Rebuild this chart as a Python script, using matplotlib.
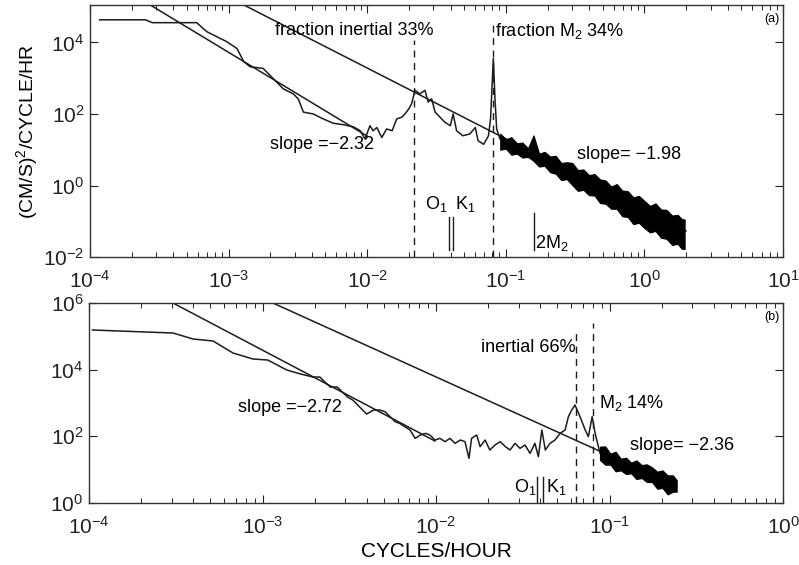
"""
Rotary spectra of current records, two panels (a) and (b)
Log-log spectra with fitted power-law slopes and tidal/inertial marks
"""

import numpy as np
import matplotlib.pyplot as plt
from matplotlib.ticker import LogLocator, NullFormatter

plt.rcParams['font.family'] = ['Liberation Sans', 'DejaVu Sans']
plt.rcParams['mathtext.fontset'] = 'custom'
plt.rcParams['mathtext.rm'] = 'Liberation Sans'
plt.rcParams['mathtext.it'] = 'Liberation Sans:italic'
plt.rcParams['mathtext.default'] = 'regular'

# ---- panel (a): values, stored as log10 ----
spec_a_logf = [-3.93, -3.60, -3.55, -3.23, -3.158, -3.014, -2.94, -2.89, -2.846,
               -2.75, -2.653, -2.605, -2.533, -2.497, -2.46, -2.39, -2.317,
               -2.245, -2.173, -2.10, -2.05, -2.016, -1.98, -1.958, -1.93,
               -1.895, -1.86, -1.82, -1.787, -1.75, -1.727, -1.70, -1.68,
               -1.655, -1.62, -1.583, -1.56, -1.535, -1.51, -1.475, -1.44,
               -1.40, -1.38, -1.355, -1.31, -1.26, -1.22, -1.20, -1.16,
               -1.125, -1.11, -1.09, -1.078, -1.066, -1.042]
spec_a_logp = [4.63, 4.63, 4.55, 4.55, 4.30, 4.02, 3.83, 3.46, 3.32,
               3.27, 2.89, 2.70, 2.56, 2.42, 2.05, 2.00, 1.86,
               1.74, 1.70, 1.64, 1.53, 1.30, 1.67, 1.53, 1.62,
               1.34, 1.58, 1.53, 1.86, 1.91, 2.00, 2.14, 2.28,
               2.66, 2.56, 2.66, 2.33, 2.42, 2.05, 1.91, 1.77,
               1.67, 2.00, 1.53, 1.39, 1.44, 1.62, 1.25, 1.15,
               1.39, 1.86, 3.55, 2.42, 1.58, 1.30]

# dense high-frequency part: upper and lower edge of the black band (log10)
band_a_logf = [-1.04, -1.00, -0.96, -0.92, -0.88, -0.84, -0.80, -0.76, -0.72,
               -0.68, -0.64, -0.60, -0.56, -0.52, -0.48, -0.44, -0.40, -0.36,
               -0.32, -0.28, -0.24, -0.20, -0.16, -0.12, -0.08, -0.04, 0.00,
               0.04, 0.08, 0.12, 0.16, 0.20, 0.24, 0.27, 0.29]
band_a_hi = [1.45, 1.29, 1.35, 1.18, 1.20, 1.04, 1.40, 0.89, 0.94,
             0.81, 0.83, 0.63, 0.65, 0.63, 0.43, 0.45, 0.29, 0.32,
             0.17, 0.14, -0.03, 0.04, -0.14, -0.16, -0.33, -0.29, -0.43,
             -0.57, -0.50, -0.67, -0.68, -0.84, -0.82, -0.94, -0.95]
band_a_lo = [1.00, 1.03, 0.86, 0.89, 0.78, 0.80, 0.69, 0.53, 0.55,
             0.37, 0.33, 0.15, 0.18, 0.01, -0.15, -0.12, -0.27, -0.28,
             -0.49, -0.51, -0.65, -0.65, -0.86, -0.88, -1.08, -1.04, -1.19,
             -1.31, -1.27, -1.46, -1.49, -1.66, -1.63, -1.77, -1.77]

fit_a1_f = [10**-3.589, 10**-2.0]
fit_a1_p = [10**5.10, 10**1.38]
fit_a2_f = [10**-2.918, 10**0.30]
fit_a2_p = [10**5.10, 10**-1.27]

inertial_a = 0.0218
m2_a = 0.0803
o1_a, k1_a, m4_a = 0.0389, 0.0414, 0.160

# ---- panel (b) ----
spec_b_logf = [-3.98, -3.516, -3.40, -3.285, -3.17, -3.055, -2.97, -2.86,
               -2.78, -2.71, -2.67, -2.61, -2.57, -2.51, -2.48, -2.40, -2.36,
               -2.323, -2.294, -2.265, -2.236, -2.21, -2.18, -2.15, -2.12,
               -2.09, -2.06, -2.035, -2.006, -1.977, -1.948, -1.92, -1.89,
               -1.86, -1.833, -1.81, -1.795, -1.765, -1.746, -1.717, -1.69,
               -1.66, -1.63, -1.60, -1.573, -1.545, -1.516, -1.487, -1.458,
               -1.43, -1.41, -1.39, -1.37, -1.343, -1.314, -1.285, -1.256,
               -1.237, -1.218, -1.199, -1.17, -1.14, -1.122, -1.10, -1.083,
               -1.064, -1.055]
spec_b_logp = [5.19, 5.10, 4.92, 4.86, 4.50, 4.32, 4.29, 3.99,
               3.87, 3.78, 3.78, 3.48, 3.48, 3.18, 3.09, 2.67, 2.79,
               2.79, 2.74, 2.59, 2.44, 2.39, 2.29, 2.19, 1.94,
               2.04, 2.09, 2.04, 1.89, 1.94, 1.84, 1.94, 1.79,
               1.89, 1.84, 1.34, 1.94, 2.04, 1.69, 1.89, 1.59,
               1.74, 1.84, 1.69, 1.59, 1.79, 1.64, 1.74, 1.49,
               1.79, 1.39, 2.19, 1.59, 1.79, 1.89, 2.09, 2.19,
               2.59, 2.79, 2.94, 2.59, 2.19, 1.99, 2.59, 2.09,
               1.69, 1.50]

band_b_logf = [-1.055, -1.025, -0.995, -0.965, -0.935, -0.905, -0.875, -0.845,
               -0.815, -0.785, -0.755, -0.725, -0.695, -0.665, -0.635, -0.613]
band_b_hi = [1.69, 1.70, 1.48, 1.54, 1.33, 1.36, 1.21, 1.28,
             1.14, 1.16, 1.07, 0.94, 0.98, 0.83, 0.83, 0.69]
band_b_lo = [1.29, 1.15, 1.15, 0.95, 0.98, 0.87, 0.89, 0.72,
             0.75, 0.63, 0.63, 0.43, 0.45, 0.26, 0.34, 0.34]

fit_b1_f = [10**-3.516, 10**-2.006]
fit_b1_p = [10**6.0, 10**1.86]
fit_b2_f = [10**-2.94, 10**-0.613]
fit_b2_p = [10**6.0, 10**0.51]

inertial_b = 0.064
m2_b = 0.080
o1_b, k1_b = 0.0384, 0.0412

LINE = '#1c1c1c'
FS = 13


def style_axes(ax, xlim, ylim, yticks):
    ax.set_xscale('log')
    ax.set_yscale('log')
    ax.set_xlim(*xlim)
    ax.set_ylim(*ylim)
    ax.set_yticks(yticks)
    ax.yaxis.set_minor_locator(plt.NullLocator())
    ax.xaxis.set_major_locator(LogLocator(base=10, numticks=20))
    ax.xaxis.set_minor_locator(LogLocator(base=10, subs=np.arange(2, 10), numticks=20))
    ax.xaxis.set_minor_formatter(NullFormatter())
    ax.tick_params(which='both', direction='in', top=True, right=True,
                   labelsize=15, colors='#222222')
    ax.tick_params(axis='x', pad=9)
    ax.tick_params(axis='y', pad=4)
    ax.tick_params(which='major', length=6, width=0.8)
    ax.tick_params(which='minor', length=3.5, width=0.7)
    for s in ax.spines.values():
        s.set_linewidth(1.0)
        s.set_color('#333333')


fig = plt.figure(figsize=(7.99, 5.65), dpi=100)

# ---------------- panel (a) ----------------
ax1 = fig.add_axes([0.1126, 0.545, 0.8674, 0.446])
style_axes(ax1, (1e-4, 1e1), (1e-2, 1.1e5), [1e-2, 1e0, 1e2, 1e4])

ax1.plot(fit_a1_f, fit_a1_p, color=LINE, lw=1.1, zorder=2)
ax1.plot(fit_a2_f, fit_a2_p, color=LINE, lw=1.1, zorder=2)
ax1.plot(10**np.array(spec_a_logf), 10**np.array(spec_a_logp), color=LINE,
         lw=1.1, zorder=3)
ax1.fill_between(10**np.array(band_a_logf), 10**np.array(band_a_lo),
                 10**np.array(band_a_hi), color='black', lw=0.8, zorder=3)

ax1.plot([inertial_a, inertial_a], [1e-2, 10**4.06], color=LINE, lw=1, ls=(0, (5, 4)))
ax1.plot([m2_a, m2_a], [1e-2, 10**4.59], color=LINE, lw=1, ls=(0, (5, 4)))
ax1.plot([o1_a, o1_a], [10**-1.80, 10**-0.87], color=LINE, lw=1)
ax1.plot([k1_a, k1_a], [10**-1.80, 10**-0.87], color=LINE, lw=1)
ax1.plot([m4_a, m4_a], [10**-1.80, 10**-0.78], color=LINE, lw=1)

ax1.text(10**-2.665, 10**4.34, 'fraction inertial 33%', fontsize=FS, va='center')
ax1.text(10**-1.078, 10**4.31, 'fraction M$_2$ 34%', fontsize=FS, va='center')
ax1.text(10**-2.70, 10**1.15, 'slope =\u22122.32', fontsize=FS, va='center')
ax1.text(10**-0.486, 10**0.87, 'slope= \u22121.98', fontsize=FS, va='center')
ax1.text(o1_a * 0.985, 10**-0.53, 'O$_1$', fontsize=FS, va='center', ha='right')
ax1.text(k1_a * 1.04, 10**-0.53, 'K$_1$', fontsize=FS, va='center', ha='left')
ax1.text(m4_a * 1.02, 10**-1.6, '2M$_2$', fontsize=FS, va='center', ha='left',
         clip_on=False)
ax1.text(0.995, 0.945, '(a)', transform=ax1.transAxes, fontsize=9,
         ha='right', va='center')
ax1.set_ylabel('(CM/S)$^2$/CYCLE/HR', fontsize=14, labelpad=2)

# ---------------- panel (b) ----------------
ax2 = fig.add_axes([0.1114, 0.1097, 0.8686, 0.354])
style_axes(ax2, (1e-4, 1e0), (1e0, 1e6), [1e0, 1e2, 1e4, 1e6])

ax2.plot(fit_b1_f, fit_b1_p, color=LINE, lw=1.1, zorder=2)
ax2.plot(fit_b2_f, fit_b2_p, color=LINE, lw=1.1, zorder=2)
ax2.plot(10**np.array(spec_b_logf), 10**np.array(spec_b_logp), color=LINE,
         lw=1.1, zorder=3)
ax2.fill_between(10**np.array(band_b_logf), 10**np.array(band_b_lo),
                 10**np.array(band_b_hi), color='black', lw=0.8, zorder=3)

ax2.plot([inertial_b, inertial_b], [1e0, 10**5.19], color=LINE, lw=1, ls=(0, (5, 4)))
ax2.plot([m2_b, m2_b], [1e0, 10**5.40], color=LINE, lw=1, ls=(0, (5, 4)))
ax2.plot([o1_b, o1_b], [1e0, 10**0.78], color=LINE, lw=1)
ax2.plot([k1_b, k1_b], [1e0, 10**0.78], color=LINE, lw=1)

ax2.text(inertial_b * 0.99, 10**4.68, 'inertial 66%', fontsize=FS, va='center', ha='right')
ax2.text(10**-1.06, 10**3.0, 'M$_2$ 14%', fontsize=FS, va='center')
ax2.text(10**-3.14, 10**2.88, 'slope =\u22122.72', fontsize=FS, va='center')
ax2.text(10**-0.88, 10**1.74, 'slope= \u22122.36', fontsize=FS, va='center')
ax2.text(o1_b * 0.985, 10**0.49, 'O$_1$', fontsize=FS, va='center', ha='right')
ax2.text(k1_b * 1.04, 10**0.49, 'K$_1$', fontsize=FS, va='center', ha='left')
ax2.text(0.995, 0.93, '(b)', transform=ax2.transAxes, fontsize=9,
         ha='right', va='center')
ax2.set_xlabel('CYCLES/HOUR', fontsize=15, labelpad=3)

fig.savefig('out.png', dpi=100)
